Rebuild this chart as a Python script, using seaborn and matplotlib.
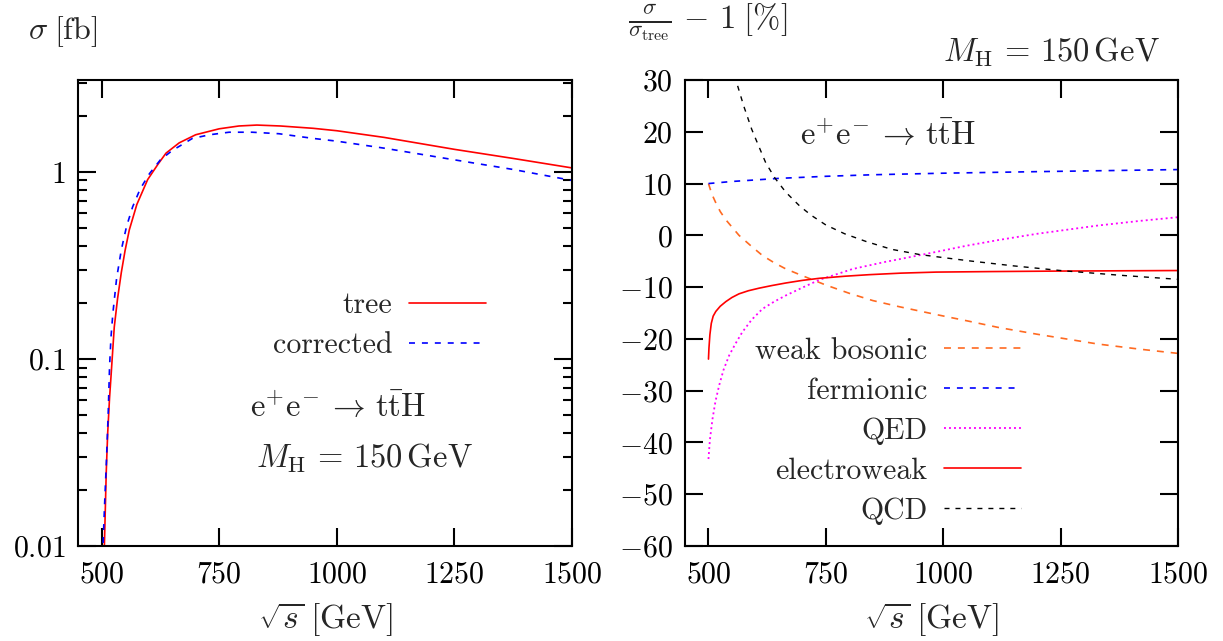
import matplotlib
matplotlib.use("Agg")
import matplotlib.pyplot as plt
import seaborn as sns
import pandas as pd
from matplotlib.ticker import FixedLocator, LogLocator, FuncFormatter, NullFormatter, MultipleLocator

# left panel: total cross section sigma [fb] vs sqrt(s) [GeV]
tree_x = [503, 506, 510, 513, 517, 520, 527, 534, 542, 550, 559, 575, 598, 620, 637, 665,
          700, 750, 792, 830, 880, 950, 1000, 1100, 1250, 1375, 1500]
tree_y = [0.004, 0.010, 0.025, 0.040, 0.062, 0.080, 0.148, 0.21, 0.29, 0.38, 0.49, 0.67, 0.91,
          1.10, 1.26, 1.43, 1.58, 1.70, 1.76, 1.78, 1.76, 1.71, 1.66, 1.53, 1.32, 1.18, 1.05]
corr_x = [501.5, 503, 507, 510, 514, 517, 520, 524, 532, 542, 553, 566, 582, 602, 625, 650,
          693, 730, 771, 820, 877, 950, 1000, 1100, 1250, 1375, 1500]
corr_y = [0.004, 0.010, 0.018, 0.027, 0.05, 0.091, 0.13, 0.175, 0.27, 0.383, 0.51, 0.65, 0.81,
          0.98, 1.16, 1.30, 1.51, 1.58, 1.63, 1.63, 1.60, 1.51, 1.46, 1.34, 1.16, 1.03, 0.90]

# right panel: relative corrections [%]
wb_x = [500, 507, 515, 525, 537, 550, 565, 590, 615, 640, 665, 700, 750, 800, 850, 907, 985,
        1050, 1118, 1200, 1330, 1420, 1500]
wb_y = [10.0, 8.0, 6.4, 4.6, 3.0, 1.6, 0.0, -2.0, -3.9, -5.3, -6.5, -7.8, -9.6, -11.2, -12.6,
        -13.8, -15.3, -16.5, -17.8, -19.1, -21.0, -22.0, -22.8]
ferm_x = [500, 550, 600, 650, 750, 850, 1000, 1200, 1350, 1500]
ferm_y = [10.0, 10.4, 10.7, 11.0, 11.4, 11.7, 12.0, 12.3, 12.5, 12.7]
qed_x = [500, 503, 508.5, 515, 522.7, 532, 544, 557, 572, 592, 615, 640, 665, 700, 736, 770,
         807, 878, 907, 985, 1050, 1118, 1200, 1330, 1420, 1500]
qed_y = [-43.2, -39.5, -35.5, -32.0, -29.0, -26.0, -23.2, -21.0, -18.7, -16.3, -14.2, -12.8,
         -11.6, -10.1, -8.6, -7.6, -6.5, -5.1, -4.6, -3.2, -2.0, -0.9, 0.3, 1.9, 2.8, 3.5]
ew_x = [500, 501, 503, 506, 510, 515.6, 525, 537, 550, 565, 585, 608, 635, 665, 700, 736, 790,
        842, 910, 985, 1100, 1250, 1500]
ew_y = [-23.9, -21.8, -19.2, -17.0, -15.6, -14.7, -13.7, -12.8, -12.0, -11.3, -10.7, -10.2,
        -9.7, -9.2, -8.7, -8.3, -7.9, -7.6, -7.3, -7.1, -7.0, -6.9, -6.8]
qcd_x = [552, 557, 575, 592, 603, 622, 642, 665, 695, 720, 750, 790, 836, 890, 949, 1000, 1062,
         1150, 1250, 1375, 1500]
qcd_y = [33.0, 30.4, 25.0, 20.5, 18.1, 14.0, 11.0, 8.3, 5.6, 3.8, 2.0, 0.3, -1.2, -2.7, -3.7,
         -4.3, -5.0, -5.9, -6.8, -7.7, -8.5]

x_ticks = [500, 750, 1000, 1250, 1500]
left_y_ticks = [0.01, 0.1, 1]
left_y_labels = ["0.01", "0.1", "1"]

sns.set_style("ticks")
plt.rcParams.update({
    "font.family": ["cmr10", "DejaVu Serif"],
    "mathtext.fontset": "cm",
    "axes.formatter.use_mathtext": True,
    "axes.unicode_minus": False,
    "font.size": 21,
    "axes.linewidth": 1.5,
    "axes.edgecolor": "black",
    "xtick.color": "black",
    "ytick.color": "black",
    "xtick.major.width": 1.5,
    "ytick.major.width": 1.5,
    "xtick.minor.width": 1.5,
    "ytick.minor.width": 1.5,
    "xtick.major.size": 13,
    "ytick.major.size": 13,
    "ytick.minor.size": 6.5,
    "lines.scale_dashes": False,
})

fs = 21.5      # ticks and legend
fs_math = 23.5 # annotations
fig = plt.figure(figsize=(12.23, 6.41), dpi=100)
ax1 = fig.add_axes([0.0638, 0.1482, 0.404, 0.727])
ax2 = fig.add_axes([0.5601, 0.1482, 0.4031, 0.727])

# ---- left panel
ax1.set_yscale("log")
sns.lineplot(x=tree_x, y=tree_y, ax=ax1, color="#ff0000", linewidth=1.2, label="tree")
sns.lineplot(x=corr_x, y=corr_y, ax=ax1, color="#0000ff", linewidth=1.2,
             linestyle=(0, (4.3, 5.0)), label="corrected")
ax1.set_xlim(450, 1500)
ax1.set_ylim(0.01, 3.1)
ax1.yaxis.set_major_locator(FixedLocator(left_y_ticks))
ax1.yaxis.set_major_formatter(FuncFormatter(lambda v, p: "$%s$" % left_y_labels[left_y_ticks.index(v)]
                                            if v in left_y_ticks else ""))
ax1.yaxis.set_minor_locator(LogLocator(base=10, subs=range(2, 10)))
ax1.yaxis.set_minor_formatter(NullFormatter())
ax1.legend(loc="upper right", bbox_to_anchor=(0.826, 0.545), frameon=False, markerfirst=False,
           fontsize=fs, handlelength=2.6, handletextpad=0.55, labelspacing=0.42,
           borderpad=0, borderaxespad=0)
ax1.text(0.348, 0.298, r"$\mathrm{e}^{+}\mathrm{e}^{-}\,\rightarrow\,\mathrm{t}\bar{\mathrm{t}}\mathrm{H}$",
         transform=ax1.transAxes, fontsize=fs_math, ha="left", va="center")
ax1.text(0.360, 0.189, r"$M_{\mathrm{H}}\,=\,150\,\mathrm{GeV}$",
         transform=ax1.transAxes, fontsize=fs_math, ha="left", va="center")
ax1.text(-0.101, 1.103, r"$\sigma\;[\mathrm{fb}]$", transform=ax1.transAxes,
         fontsize=23, ha="left", va="center")

# ---- right panel
sns.lineplot(x=wb_x, y=wb_y, ax=ax2, color="#ff6a21", linewidth=1.2,
             linestyle=(0, (5.0, 5.0)), label="weak bosonic")
sns.lineplot(x=ferm_x, y=ferm_y, ax=ax2, color="#0000ff", linewidth=1.2,
             linestyle=(0, (4.3, 5.0)), label="fermionic")
sns.lineplot(x=qed_x, y=qed_y, ax=ax2, color="#ff00ff", linewidth=1.3,
             linestyle=(0, (1.4, 2.2)), label="QED")
sns.lineplot(x=ew_x, y=ew_y, ax=ax2, color="#ff0000", linewidth=1.2, label="electroweak")
sns.lineplot(x=qcd_x, y=qcd_y, ax=ax2, color="black", linewidth=1.0,
             linestyle=(0, (3.6, 4.3)), label="QCD")
ax2.set_xlim(450, 1500)
ax2.set_ylim(-60, 30)
ax2.yaxis.set_major_locator(MultipleLocator(10))
ax2.yaxis.set_major_formatter(FuncFormatter(lambda v, p: "$%d$" % round(v)))
ax2.legend(loc="upper right", bbox_to_anchor=(0.682, 0.448), frameon=False, markerfirst=False,
           fontsize=fs, handlelength=2.6, handletextpad=0.55, labelspacing=0.42,
           borderpad=0, borderaxespad=0)
ax2.text(0.233, 0.882, r"$\mathrm{e}^{+}\mathrm{e}^{-}\,\rightarrow\,\mathrm{t}\bar{\mathrm{t}}\mathrm{H}$",
         transform=ax2.transAxes, fontsize=fs_math, ha="left", va="center")
ax2.text(0.523, 1.06, r"$M_{\mathrm{H}}\,=\,150\,\mathrm{GeV}$",
         transform=ax2.transAxes, fontsize=fs_math, ha="left", va="center")
ax2.text(-0.116, 1.124, r"$\frac{\sigma}{\sigma_{\mathrm{tree}}}\,-\,1\;[\%]$",
         transform=ax2.transAxes, fontsize=23.5, ha="left", va="center")

for ax in (ax1, ax2):
    ax.xaxis.set_major_locator(FixedLocator(x_ticks))
    ax.xaxis.set_major_formatter(FuncFormatter(lambda v, p: "$%d$" % round(v)))
    ax.tick_params(which="both", direction="in", top=True, right=True, labelsize=fs)
    ax.tick_params(axis="x", pad=11)
    ax.tick_params(axis="y", pad=9)
    ax.set_xlabel(r"$\sqrt{s}\;[\mathrm{GeV}]$", fontsize=24, labelpad=8)
    ax.set_ylabel("")

fig.savefig("out.png", dpi=100)
